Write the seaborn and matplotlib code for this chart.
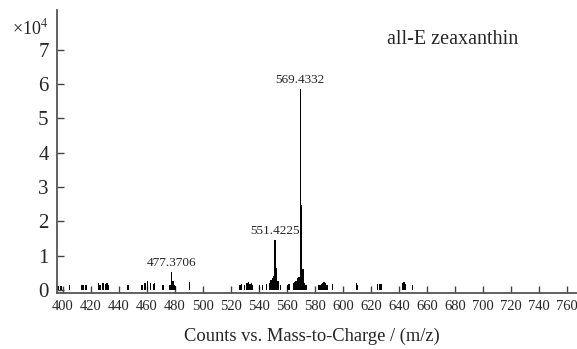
import matplotlib
matplotlib.use("Agg")
import matplotlib.pyplot as plt
import seaborn as sns
import numpy as np
import pandas as pd

# m/z of peaks and intensities (x10^4 counts)
mz = [396.5, 398.5, 404.3, 413.0, 414.5, 416.5, 425.0, 426.5, 428.6, 430.0, 431.0, 432.0,
      446.0, 456.0, 458.6, 460.5, 462.0, 464.3, 465.7, 471.4, 476.4, 477.3706, 478.4, 479.4,
      480.4, 490.7, 526.0, 527.6, 529.5, 531.0, 532.4, 533.4, 534.5, 535.6, 540.7, 542.5,
      545.7, 547.0, 548.4, 549.4, 550.4, 551.4225, 552.43, 553.4, 555.0, 560.0, 561.4, 564.0,
      565.4, 566.4, 567.4, 568.4, 569.4332, 570.44, 571.44, 572.4, 573.5, 582.0, 583.4, 584.4,
      585.5, 586.6, 587.5, 588.6, 592.9, 609.0, 610.0, 624.8, 626.3, 627.9, 642.0, 643.0,
      644.3, 649.0]
intensity = [0.12, 0.12, 0.15, 0.15, 0.15, 0.15, 0.20, 0.15, 0.20, 0.18, 0.20, 0.15,
             0.15, 0.15, 0.20, 0.25, 0.20, 0.18, 0.20, 0.15, 0.15, 0.52, 0.25, 0.15,
             0.10, 0.22, 0.15, 0.18, 0.15, 0.20, 0.22, 0.18, 0.20, 0.15, 0.15, 0.15,
             0.18, 0.20, 0.28, 0.35, 0.40, 1.45, 0.65, 0.25, 0.15, 0.15, 0.18, 0.20,
             0.22, 0.25, 0.35, 0.38, 5.85, 2.48, 0.60, 0.20, 0.15, 0.15, 0.15, 0.18,
             0.20, 0.22, 0.20, 0.15, 0.18, 0.20, 0.15, 0.18, 0.18, 0.18, 0.20, 0.22,
             0.18, 0.15]
label_peaks = [477.3706, 551.4225, 569.4332]
label_heights = [0.52, 1.45, 5.85]
x_ticks = list(range(400, 761, 20))
y_ticks = list(range(0, 8))

sns.set_style("ticks")
plt.rcParams['font.family'] = ['Liberation Serif', 'DejaVu Serif']
plt.rcParams['mathtext.fontset'] = 'stix'

fig = plt.figure(figsize=(5.77, 3.49), dpi=100)
ax = fig.add_axes([57/577, 56/349, 520/577, 283/349])

df = pd.DataFrame({"mz": mz, "intensity": intensity})
sns.histplot(data=df, x="mz", weights="intensity", binwidth=1.0, binrange=(395, 768),
             color="black", edgecolor="black", linewidth=0, alpha=1, ax=ax)

ax.set_xlim(395.7, 767.1)
ax.set_ylim(-0.09, 8.16)
ax.set_xticks(x_ticks)
ax.set_xticklabels([str(t) for t in x_ticks], fontsize=10.5)
ax.set_yticks(y_ticks)
ax.set_yticklabels([str(t) for t in y_ticks], fontsize=15)
ax.tick_params(axis='both', direction='in', length=5, width=1.0, color='#444444')
ax.tick_params(axis='x', pad=5)
ax.tick_params(axis='y', pad=6)
ax.set_xlabel("")
ax.set_ylabel("")
sns.despine(ax=ax, top=True, right=True)
for s in ['left', 'bottom']:
    ax.spines[s].set_color('#555555')
    ax.spines[s].set_linewidth(1.3)

for p, h in zip(label_peaks, label_heights):
    ax.text(p, h + 0.08, f"{p:.4f}", ha='center', va='bottom', fontsize=9.5)

fig.text(12/577, 1 - 28/349, "×10$^{4}$", fontsize=13, ha='left', va='center')
fig.text(453/577, 1 - 40/349, "all-E zeaxanthin", fontsize=14.5, ha='center', va='center')
fig.text(312/577, 1 - 336/349, "Counts vs. Mass-to-Charge / (m/z)", fontsize=13.3,
         ha='center', va='center')

fig.savefig("out.png", dpi=100)
